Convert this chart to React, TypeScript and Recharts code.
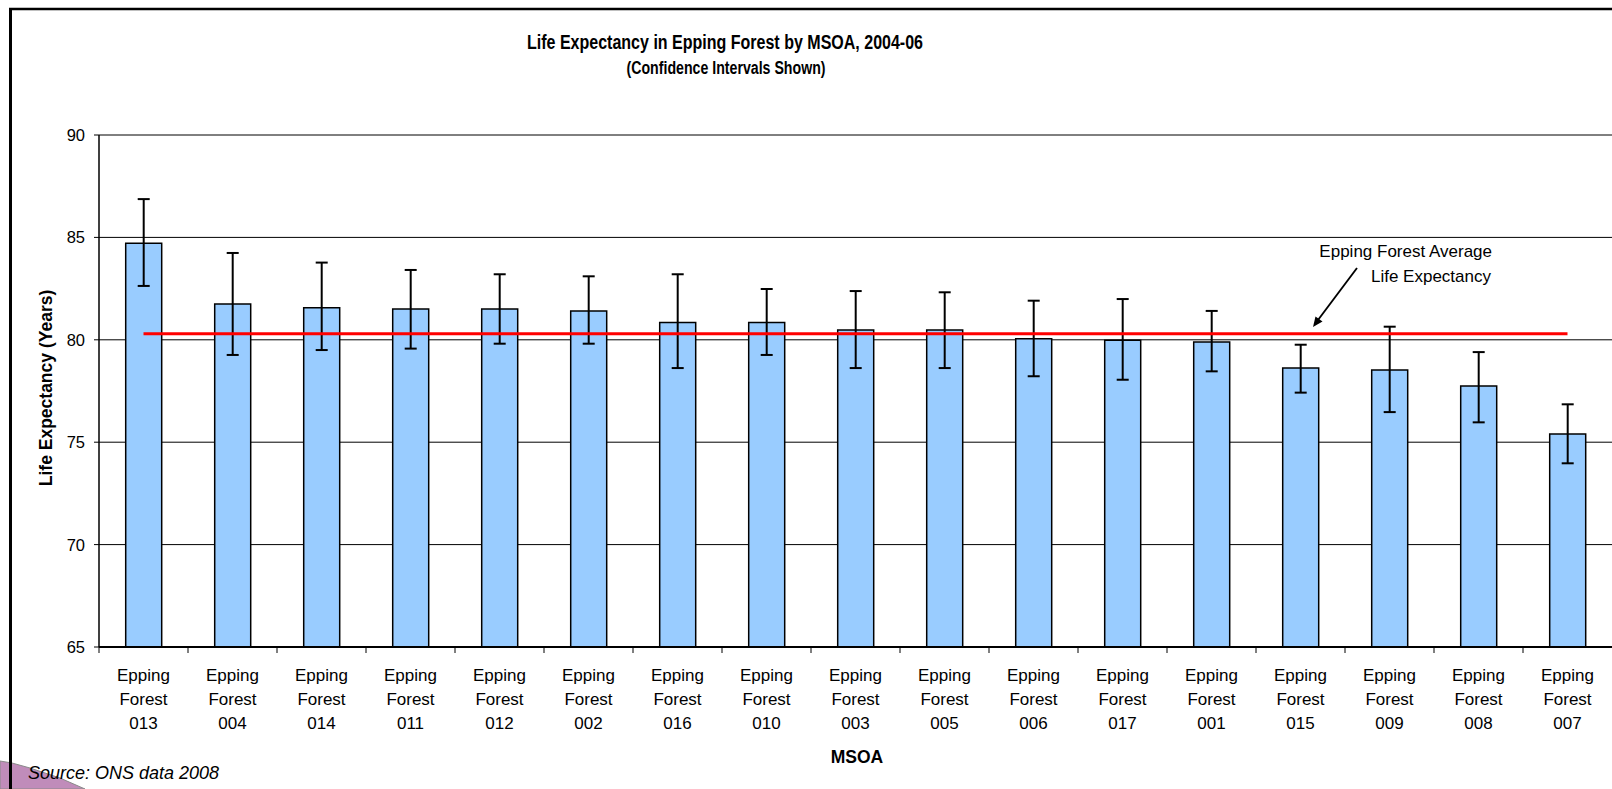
import React from 'react';
import { ComposedChart, Bar, Line, XAxis, YAxis, CartesianGrid, ErrorBar } from 'recharts';

const categories = ['013', '004', '014', '011', '012', '002', '016', '010', '003', '005', '006', '017', '001', '015', '009', '008', '007'];
const lifeExpectancy = [84.71, 81.75, 81.57, 81.5, 81.5, 81.41, 80.85, 80.85, 80.48, 80.48, 80.05, 79.98, 79.89, 78.62, 78.53, 77.74, 75.4];
const upperCI = [86.87, 84.24, 83.77, 83.41, 83.2, 83.1, 83.2, 82.48, 82.38, 82.32, 81.91, 81.99, 81.41, 79.76, 80.64, 79.4, 76.85];
const lowerCI = [82.63, 79.26, 79.5, 79.57, 79.81, 79.81, 78.62, 79.26, 78.62, 78.62, 78.22, 78.05, 78.46, 77.42, 76.47, 75.97, 73.97];
const averageLE = 80.3;
const yTicks = [65, 70, 75, 80, 85, 90];

const data = categories.map((c, i) => ({
  name: c,
  value: lifeExpectancy[i],
  err: [+(lifeExpectancy[i] - lowerCI[i]).toFixed(2), +(upperCI[i] - lifeExpectancy[i]).toFixed(2)],
  avg: averageLE,
}));

const FONT = '"Liberation Sans", Arial, sans-serif';

const XTick = (props: any) => {
  const { x, y, payload } = props;
  const off = payload && typeof payload.offset === 'number' ? payload.offset : 0;
  return (
    <g>
      <line x1={x - off} y1={y} x2={x - off} y2={y + 6} stroke="#000" strokeWidth={1} />
      <text x={x} y={y} textAnchor="middle" fontFamily={FONT} fontSize={17} fill="#000">
        <tspan x={x} dy={34}>Epping</tspan>
        <tspan x={x} dy={23.5}>Forest</tspan>
        <tspan x={x} dy={24}>{payload.value}</tspan>
      </text>
    </g>
  );
};

const YTick = (props: any) => {
  const { x, y, payload } = props;
  return (
    <text x={x} y={y} dy="0.36em" textAnchor="end" fontFamily={FONT} fontSize={16.5} fill="#000">
      {payload.value}
    </text>
  );
};

export default function App() {
  return (
    <div style={{ position: 'absolute', left: 0, top: 0, width: 1612, height: 789, background: '#fff', overflow: 'hidden' }}>
      <ComposedChart
        width={1612}
        height={789}
        data={data}
        margin={{ top: 135, right: 0, bottom: 42, left: 39 }}
        barCategoryGap="30%"
        style={{ fontFamily: FONT }}
      >
        <CartesianGrid vertical={false} stroke="#000" strokeWidth={1} />
        <XAxis
          dataKey="name"
          height={100}
          tickLine={false}
          tickSize={0}
          tickMargin={0}
          axisLine={{ stroke: '#000', strokeWidth: 2 }}
          tick={<XTick />}
          interval={0}
        />
        <YAxis
          width={60}
          domain={[65, 90]}
          ticks={yTicks}
          allowDataOverflow
          tickSize={5}
          tickMargin={9}
          tickLine={{ stroke: '#000', strokeWidth: 1 }}
          axisLine={{ stroke: '#000', strokeWidth: 1.5 }}
          tick={<YTick />}
        />
        <Bar dataKey="value" fill="#99CCFF" stroke="#000" strokeWidth={1.5} isAnimationActive={false}>
          <ErrorBar dataKey="err" width={6} stroke="#000" strokeWidth={2} direction="y" />
        </Bar>
        <Line dataKey="avg" type="linear" stroke="#FF0000" strokeWidth={3} dot={false} activeDot={false} isAnimationActive={false} />
      </ComposedChart>
      <svg width={1612} height={789} style={{ position: 'absolute', left: 0, top: 0, pointerEvents: 'none' }}>
        <polygon points="0,761 12,763 30,768 60,778 85,789 0,789" fill="#C08CBA" stroke="#8a8a8a" strokeWidth={1} />
        <line x1={10.5} y1={8} x2={10.5} y2={789} stroke="#000" strokeWidth={3} />
        <line x1={9} y1={9} x2={1612} y2={9} stroke="#000" strokeWidth={2.5} />
        <text x={725} y={49} textAnchor="middle" fontFamily={FONT} fontWeight="bold" fontSize={19.5} textLength={396} lengthAdjust="spacingAndGlyphs" fill="#000">
          Life Expectancy in Epping Forest by MSOA, 2004-06
        </text>
        <text x={726} y={74} textAnchor="middle" fontFamily={FONT} fontWeight="bold" fontSize={17.5} textLength={199} lengthAdjust="spacingAndGlyphs" fill="#000">
          (Confidence Intervals Shown)
        </text>
        <text x={52} y={388} transform="rotate(-90 52 388)" textAnchor="middle" fontFamily={FONT} fontWeight="bold" fontSize={17.5} fill="#000">
          Life Expectancy (Years)
        </text>
        <text x={857} y={763} textAnchor="middle" fontFamily={FONT} fontWeight="bold" fontSize={17.5} fill="#000">
          MSOA
        </text>
        <text x={1492} y={257} textAnchor="end" fontFamily={FONT} fontSize={17} fill="#000">
          Epping Forest Average
        </text>
        <text x={1491} y={282} textAnchor="end" fontFamily={FONT} fontSize={17} fill="#000">
          Life Expectancy
        </text>
        <line x1={1357} y1={268} x2={1318} y2={320} stroke="#000" strokeWidth={1.8} />
        <polygon points="1313,327 1322.5,321.5 1315.5,316.5" fill="#000" />
        <text x={28} y={779} fontFamily={FONT} fontStyle="italic" fontSize={18} fill="#000">
          Source: ONS data 2008
        </text>
      </svg>
    </div>
  );
}
